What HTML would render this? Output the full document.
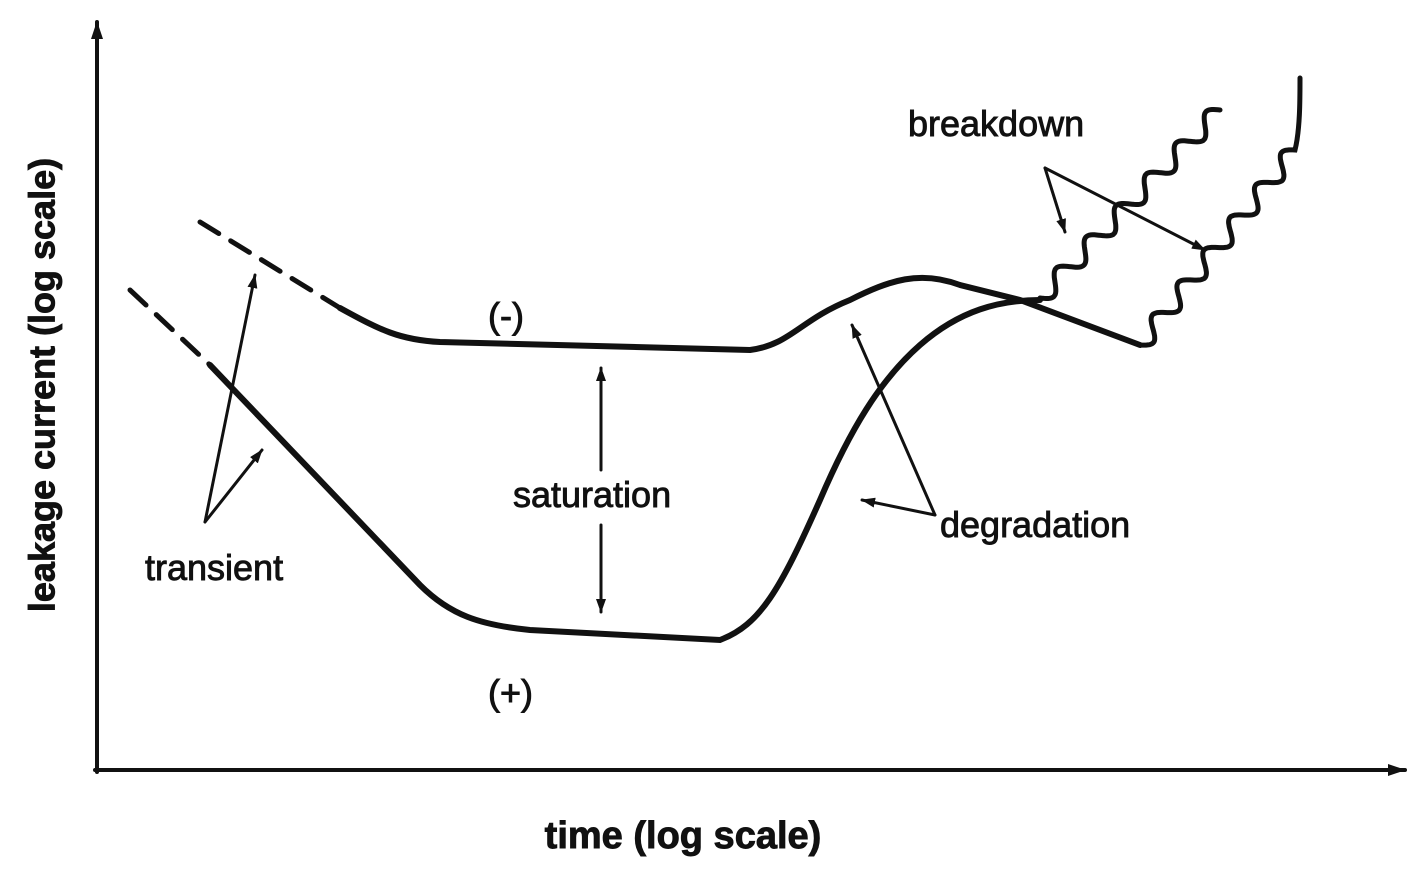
<!DOCTYPE html>
<html><head><meta charset="utf-8"><style>
html,body{margin:0;padding:0;background:#fff;}
svg{display:block}
text{font-family:"Liberation Sans",Arial,sans-serif;fill:#111;stroke:#111;stroke-width:0.9;}
</style></head><body>
<svg id="s" width="1419" height="872" viewBox="0 0 1419 872" xmlns="http://www.w3.org/2000/svg">
<defs>
<marker id="a" markerWidth="14" markerHeight="10" refX="13" refY="5" orient="auto" markerUnits="userSpaceOnUse"><path d="M0,0 L14,5 L0,10 Z" fill="#111"/></marker>
<marker id="b" markerWidth="18" markerHeight="12" refX="17" refY="6" orient="auto" markerUnits="userSpaceOnUse"><path d="M0,0 L18,6 L0,12 Z" fill="#111"/></marker>
</defs>
<g stroke="#111" fill="none" stroke-linecap="round">
<line x1="97" y1="772" x2="97" y2="22" stroke-width="4" marker-end="url(#b)"/>
<line x1="95" y1="770" x2="1405" y2="770" stroke-width="4" marker-end="url(#b)"/>
<path d="M200,222 L340,308" stroke-width="5" stroke-dasharray="22,14"/>
<path d="M340,308 C380,330 400,340 440,342 L750,350 C790,345 800,320 850,300 C890,280 920,270 960,285 L1020,300 L1140,345" stroke-width="6"/>
<path d="M130,290 L210,365" stroke-width="5" stroke-dasharray="22,14"/>
<path d="M210,365 L420,585 C450,615 480,625 530,630 L720,640 C760,625 780,590 820,500 C850,430 880,380 920,345 C960,310 1000,300 1040,300" stroke-width="6"/>
<path id="w1" stroke-width="5"/>
<path id="w2" stroke-width="5"/>
<line x1="205" y1="522" x2="255" y2="275" stroke-width="3" marker-end="url(#a)"/>
<line x1="205" y1="522" x2="262" y2="450" stroke-width="3" marker-end="url(#a)"/>
<line x1="601" y1="470" x2="601" y2="368" stroke-width="3" marker-end="url(#a)"/>
<line x1="601" y1="525" x2="601" y2="612" stroke-width="3" marker-end="url(#a)"/>
<line x1="935" y1="515" x2="852" y2="325" stroke-width="3" marker-end="url(#a)"/>
<line x1="935" y1="515" x2="862" y2="500" stroke-width="3" marker-end="url(#a)"/>
<line x1="1045" y1="168" x2="1065" y2="232" stroke-width="3" marker-end="url(#a)"/>
<line x1="1045" y1="168" x2="1205" y2="250" stroke-width="3" marker-end="url(#a)"/>
</g>
<text x="45" y="385" font-size="36" font-weight="bold" text-anchor="middle" transform="rotate(-90 45 385)" dominant-baseline="middle">leakage current (log scale)</text>
<text x="683" y="848" font-size="38" font-weight="bold" text-anchor="middle">time (log scale)</text>
<text x="145" y="580" font-size="36">transient</text>
<text x="513" y="507" font-size="36">saturation</text>
<text x="940" y="537" font-size="36">degradation</text>
<text x="908" y="136" font-size="36">breakdown</text>
<text x="488" y="328" font-size="36">(-)</text>
<text x="488" y="705" font-size="36">(+)</text>
</svg>
<script>
function wave(id,x0,y0,x1,y1,n,amp,extra){
 var dx=x1-x0,dy=y1-y0,L=Math.hypot(dx,dy),px=-dy/L,py=dx/L,d="";
 for(var i=0;i<=200;i++){var t=i/200,o=amp*Math.sin(t*n*2*Math.PI);
  d+=(i?"L":"M")+(x0+dx*t+px*o).toFixed(1)+","+(y0+dy*t+py*o).toFixed(1);}
 document.getElementById(id).setAttribute("d",d+(extra||""));
}
wave("w1",1040,298,1220,110,6,9);
wave("w2",1140,345,1295,150,6,9," C1300,130 1300,100 1300,78");
</script>
</body></html>
